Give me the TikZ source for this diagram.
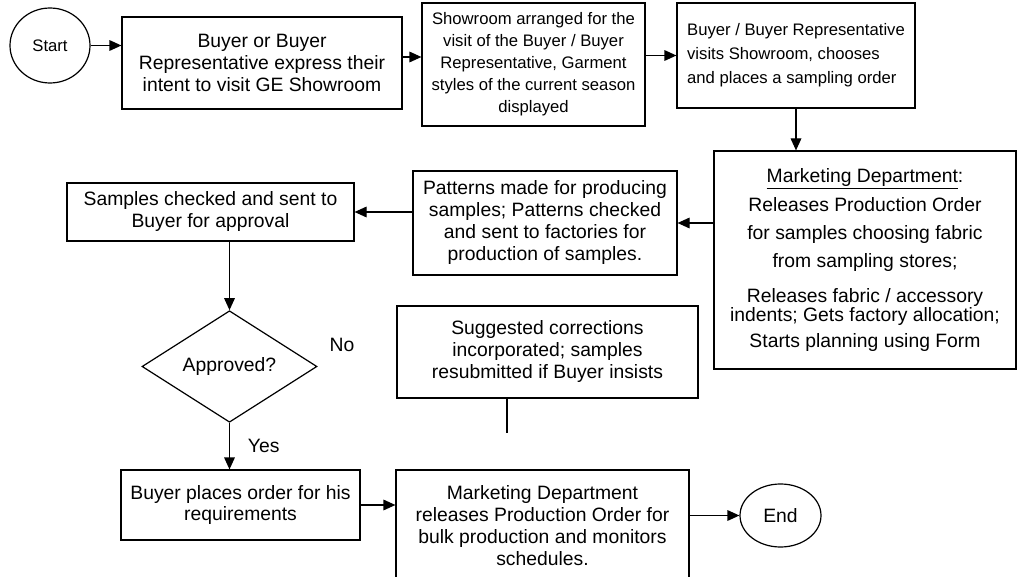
\documentclass[tikz,border=0pt]{standalone}
\usepackage{fontspec}
\setmainfont{Liberation Sans}
\usetikzlibrary{shapes.geometric,arrows.meta}

\tikzset{
  kasten/.style={draw, rectangle, line width=0.9pt, align=center, inner sep=0pt},
  oval/.style={draw, ellipse, line width=0.9pt, inner sep=0pt},
  raute/.style={draw, diamond, line width=0.9pt, inner sep=0pt},
  pfeil/.style={-{Triangle[length=9pt,width=8pt]}, line width=0.9pt},
  klein/.style={font=\fontsize{12.5}{16.5}\selectfont},
}

\begin{document}
\begin{tikzpicture}[x=0.75pt, y=-0.75pt, font=\fontsize{14.5}{16.5}\selectfont]
  \useasboundingbox (0,0) rectangle (1018,577);

  % zeichne Start und Ende
  \node[oval, klein, minimum width=60pt, minimum height=56.25pt] (start) at (50,45.5) {Start};
  \node[oval, minimum width=60.75pt, minimum height=47.25pt] (ende) at (780.5,515.5) {End};

  % zeichne obere Reihe
  \node[kasten, minimum width=210pt, minimum height=69pt] (intent) at (262,63)
    {Buyer or Buyer\\Representative express their\\intent to visit GE Showroom};
  \node[kasten, klein, minimum width=167.25pt, minimum height=92.25pt] (showroom) at (533.5,64.5)
    {Showroom arranged for the\\visit of the Buyer / Buyer\\Representative, Garment\\styles of the current season\\displayed};
  \node[kasten, align=left, font=\fontsize{12.5}{18}\selectfont, minimum width=178.5pt, minimum height=78.75pt] (visit) at (796,55.5)
    {Buyer / Buyer Representative\\visits Showroom, chooses\\and places a sampling order};

  % zeichne rechte Seite und Mitte
  \node[kasten, minimum width=226.5pt, minimum height=163.5pt] (mktg) at (865,260)
    {\underline{Marketing Department}:\\[5.25pt] Releases Production Order\\[4.5pt] for samples choosing fabric\\[4.5pt] from sampling stores;\\[9.75pt] Releases fabric / accessory\\[-2.25pt] indents; Gets factory allocation;\\[3pt] Starts planning using Form};
  \node[kasten, minimum width=198pt, minimum height=78pt] (patterns) at (545,223)
    {Patterns made for producing\\samples; Patterns checked\\and sent to factories for\\production of samples.};
  \node[kasten, minimum width=215.25pt, minimum height=43.5pt] (samples) at (210.5,212)
    {Samples checked and sent to\\Buyer for approval};
  \node[raute, minimum width=131.25pt, minimum height=81.75pt] (approved) at (229.5,366.5) {Approved?};
  \node (nein) at (342,345) {No};
  \node[kasten, minimum width=225.75pt, minimum height=69pt] (corrections) at (547.5,352)
    {Suggested corrections\\incorporated; samples\\resubmitted if Buyer insists};
  \coordinate (lose) at (507,433);

  % zeichne untere Reihe
  \node[kasten, minimum width=179.25pt, minimum height=52.5pt] (order) at (240.5,505)
    {Buyer places order for his\\requirements};
  \node[kasten, minimum width=219.75pt, minimum height=84pt] (bulk) at (542.5,526)
    {Marketing Department\\releases Production Order for\\bulk production and monitors\\schedules.};

  % zeichne Pfeile
  \coordinate (ausgang) at ([yshift=4.5pt]intent.east);
  \draw[pfeil] (start.east) -- (start.east -| intent.west);
  \draw[pfeil] (ausgang) -- (ausgang -| showroom.west);
  \draw[pfeil] (showroom.east |- visit.west) -- (visit.west);
  \draw[pfeil] (visit.south) -- (visit.south |- mktg.north);
  \draw[pfeil] (mktg.west |- patterns.east) -- (patterns.east);
  \draw[pfeil] (patterns.west |- samples.east) -- (samples.east);
  \draw[pfeil] (samples.south -| approved.north) -- (approved.north);
  \draw[pfeil] (approved.south) -- (approved.south |- order.north) node[midway, right=10pt] (ja) {Yes};
  \draw[pfeil] (order.east) -- (order.east -| bulk.west);
  \draw[pfeil] (bulk.east |- ende.west) -- (ende.west);
  \draw[line width=0.9pt] (corrections.south -| lose) -- (lose);
\end{tikzpicture}
\end{document}
